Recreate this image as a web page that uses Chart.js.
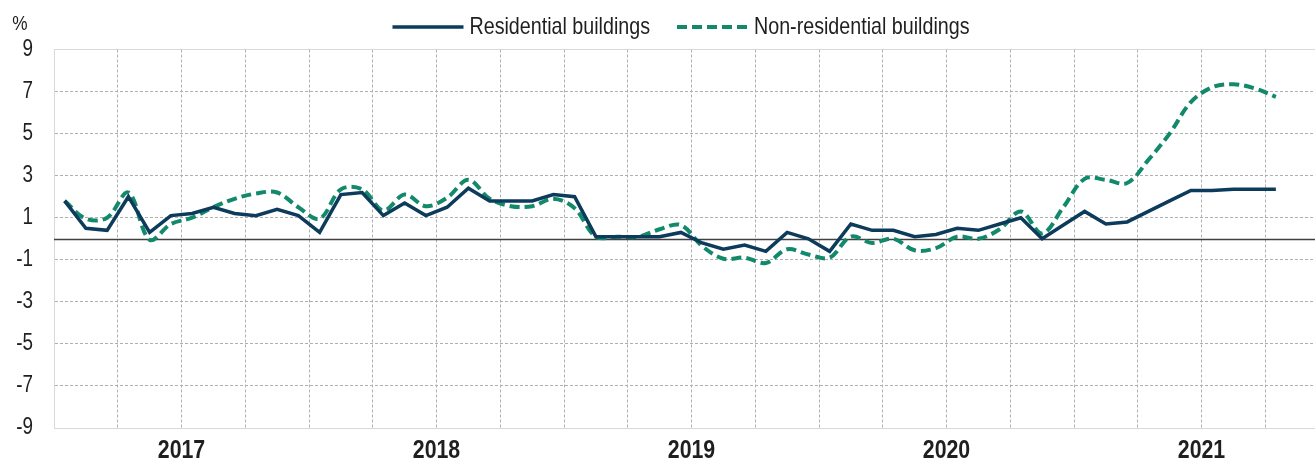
<!DOCTYPE html>
<html>
<head>
<meta charset="utf-8">
<script src="https://cdn.jsdelivr.net/npm/chart.js@4.4.1/dist/chart.umd.min.js"></script>
<style>
  html, body { margin: 0; padding: 0; background: #fff; overflow: hidden; }
  #wrap { width: 1340px; height: 464px; }
</style>
</head>
<body>
<div id="wrap"><canvas id="chart" width="1340" height="464"></canvas></div>
<script>
// Monthly growth, Jan 2017 - Oct 2021 (%)
const years = ['2017', '2018', '2019', '2020', '2021'];
const monthNames = ['Jan', 'Feb', 'Mar', 'Apr', 'May', 'Jun', 'Jul', 'Aug', 'Sep', 'Oct', 'Nov', 'Dec'];

const residential = [
    1.8, 0.5, 0.4, 2.0, 0.3, 1.1, 1.2, 1.5, 1.2, 1.1, 1.4, 1.1,
    0.3, 2.1, 2.2, 1.1, 1.7, 1.1, 1.5, 2.4, 1.8, 1.8, 1.8, 2.1,
    2.0, 0.1, 0.1, 0.1, 0.1, 0.3, -0.2, -0.5, -0.3, -0.6, 0.3, 0.0,
    -0.6, 0.7, 0.4, 0.4, 0.1, 0.2, 0.5, 0.4, 0.7, 1.0, 0.0, 0.65,
    1.3, 0.7, 0.8, 1.3, 1.8, 2.3, 2.3, 2.35, 2.35, 2.35
];

const nonResidential = [
    1.8, 0.95, 1.0, 2.2, -0.05, 0.7, 1.0, 1.5, 1.9, 2.15, 2.2, 1.5,
    0.95, 2.35, 2.35, 1.35, 2.1, 1.55, 1.95, 2.8, 1.9, 1.55, 1.55, 1.9,
    1.45, 0.1, 0.1, 0.1, 0.45, 0.65, -0.35, -0.95, -0.9, -1.15, -0.5, -0.75,
    -0.9, 0.1, -0.2, 0.0, -0.55, -0.45, 0.1, 0.0, 0.45, 1.3, 0.25, 1.5,
    2.85, 2.8, 2.65, 3.75, 5.0, 6.5, 7.2, 7.35, 7.15, 6.75
];

const yTicks = [-9, -7, -5, -3, -1, 1, 3, 5, 7, 9];

const months = years.flatMap(y => monthNames.map(m => m + ' ' + y)).slice(0, residential.length);

// no narrow font installed, so text is squeezed horizontally to look like Arial Narrow
const FONT = "'Liberation Sans', Arial, sans-serif";
const NARROW = 0.82;
const NAVY = '#0c3b5c';
const GREEN = '#11896a';
const TEXT = '#1f1f1f';

// month i sits in the middle of its slot: x = i + 0.5
const toPoints = arr => arr.map((v, i) => ({ x: i + 0.5, y: v, month: months[i] }));

function narrowText(ctx, text, x, y, align, font) {
    ctx.save();
    ctx.font = font;
    ctx.fillStyle = TEXT;
    ctx.textAlign = align;
    ctx.textBaseline = 'middle';
    ctx.translate(x, y);
    ctx.scale(NARROW, 1);
    ctx.fillText(text, 0, 0);
    ctx.restore();
}

const zeroLine = {
    id: 'zeroLine',
    beforeDatasetsDraw(chart) {
        const { ctx, chartArea, scales } = chart;
        const y = Math.round(scales.y.getPixelForValue(0)) + 0.5;
        ctx.save();
        ctx.strokeStyle = '#404040';
        ctx.lineWidth = 1.5;
        ctx.beginPath();
        ctx.moveTo(chartArea.left, y);
        ctx.lineTo(chartArea.right, y);
        ctx.stroke();
        ctx.restore();
    }
};

const axisLabels = {
    id: 'axisLabels',
    afterDraw(chart) {
        const { ctx, scales } = chart;
        scales.y.ticks.forEach(t => {
            narrowText(ctx, String(t.value), 33, scales.y.getPixelForValue(t.value), 'right', '23px ' + FONT);
        });
        scales.x.ticks.forEach(t => {
            if (!t.label) return;
            narrowText(ctx, t.label, scales.x.getPixelForValue(t.value), 451, 'center', 'bold 26px ' + FONT);
        });
        narrowText(ctx, '%', 13 + 7, 24, 'center', '21px ' + FONT);
    }
};

const topLegend = {
    id: 'topLegend',
    afterDraw(chart) {
        const ctx = chart.ctx;
        const font = '24px ' + FONT;
        ctx.save();
        ctx.font = font;
        const items = chart.data.datasets.map(ds => ({ ds, w: ctx.measureText(ds.label).width * NARROW }));
        const sample = 71, gapText = 6, gapItem = 27;
        const total = items.reduce((s, it) => s + sample + gapText + it.w, 0) + gapItem * (items.length - 1);
        let x = 681 - total / 2;
        const y = 27;
        items.forEach(it => {
            ctx.strokeStyle = it.ds.borderColor;
            ctx.lineWidth = it.ds.borderWidth;
            ctx.setLineDash(it.ds.borderDash || []);
            ctx.beginPath();
            ctx.moveTo(x, y);
            ctx.lineTo(x + sample, y);
            ctx.stroke();
            x += sample + gapText;
            narrowText(ctx, it.ds.label, x, y, 'left', font);
            x += it.w + gapItem;
        });
        ctx.restore();
    }
};

new Chart(document.getElementById('chart'), {
    type: 'line',
    data: {
        datasets: [
            {
                label: 'Residential buildings',
                data: toPoints(residential),
                borderColor: NAVY,
                borderWidth: 3.5,
                pointRadius: 0,
                tension: 0
            },
            {
                label: 'Non-residential buildings',
                data: toPoints(nonResidential),
                borderColor: GREEN,
                borderWidth: 4,
                borderDash: [10, 5],
                pointRadius: 0,
                tension: 0.35
            }
        ]
    },
    options: {
        responsive: false,
        animation: false,
        layout: { padding: { top: 49.5, right: 11, bottom: 0, left: 0 } },
        plugins: {
            legend: { display: false },
            tooltip: { enabled: false }
        },
        scales: {
            x: {
                type: 'linear',
                min: 0,
                max: 60,
                afterFit: s => { s.height = 36; },
                ticks: {
                    display: false,
                    stepSize: 3,
                    autoSkip: false,
                    maxRotation: 0,
                    callback: v => (v % 12 === 6 ? years[(v - 6) / 12] : '')
                },
                grid: {
                    drawTicks: false,
                    color: c => (c.tick && c.tick.value === 0 ? 'rgba(0,0,0,0)' : '#b0b0b0')
                },
                border: { display: true, color: '#d9d9d9', width: 1, dash: [3, 2] }
            },
            y: {
                min: yTicks[0],
                max: yTicks[yTicks.length - 1],
                afterFit: s => { s.width = 54; },
                ticks: {
                    display: false,
                    stepSize: 2
                },
                grid: {
                    drawTicks: false,
                    color: c => (c.tick && Math.abs(c.tick.value) === 9 ? '#d9d9d9' : '#b0b0b0')
                },
                border: {
                    display: true,
                    color: '#d9d9d9',
                    width: 1,
                    dash: c => (c.tick && Math.abs(c.tick.value) === 9 ? [] : [3, 2])
                }
            }
        }
    },
    plugins: [zeroLine, axisLabels, topLegend]
});
</script>
</body>
</html>
